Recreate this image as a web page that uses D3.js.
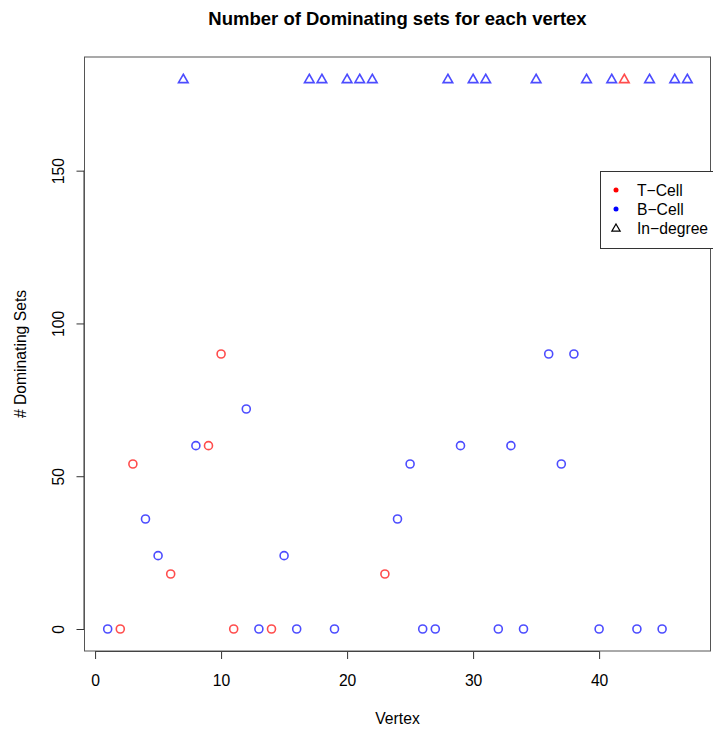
<!DOCTYPE html>
<html><head><meta charset="utf-8">
<script src="https://cdn.jsdelivr.net/npm/d3@7"></script>
<style>body{margin:0;background:#fff}svg{display:block;font-family:"Liberation Sans",Arial,sans-serif}</style>
</head><body><svg id="c" width="713" height="732"></svg>
<script>
const vertices = d3.range(1, 48);
const dominating = [0,0,54,36,24,18,180,60,60,90,0,72,0,0,24,0,180,180,0,180,180,180,18,36,54,0,0,180,60,180,180,0,60,0,180,90,54,90,180,0,180,180,0,180,0,180,180];
const cellType = ["B","T","T","B","B","T","B","B","T","T","T","B","B","T","B","B","B","B","B","B","B","B","T","B","B","B","B","B","B","B","B","B","B","B","B","B","B","B","B","B","B","T","B","B","B","B","B"];
const isInDegree = [0,0,0,0,0,0,1,0,0,0,0,0,0,0,0,0,1,1,0,1,1,1,0,0,0,0,0,1,0,1,1,0,0,0,1,0,0,0,1,0,1,1,0,1,0,1,1];
const xTicks = [0,10,20,30,40];
const yTicks = [0,50,100,150];
const legendLabels = ["T\u2212Cell","B\u2212Cell","In\u2212degree"];

const svg = d3.select("#c");
const L = 84.5, R = 710.5, T = 57, B = 651;
const x = d3.scaleLinear().domain([1 - 46*0.04, 47 + 46*0.04]).range([L, R]);
const y = d3.scaleLinear().domain([-180*0.04, 180*1.04]).range([B, T]);
const col = {T: "rgba(255,0,0,0.7)", B: "rgba(0,0,255,0.7)"};
const FS = 15.7;

svg.append("text").attr("x", (L+R)/2).attr("y", 25).attr("text-anchor","middle")
  .attr("font-size", 18.5).attr("font-weight","bold").text("Number of Dominating sets for each vertex");

const xa = svg.append("g").attr("transform", `translate(0,${B})`)
  .call(d3.axisBottom(x).tickValues(xTicks).tickSize(8).tickPadding(0).tickFormat(d3.format("d")));
xa.select(".domain").attr("d", `M${x(0)},0.5H${x(40)}`);
xa.selectAll("text").attr("font-size", FS).attr("font-family","Liberation Sans, Arial").attr("fill","#000")
  .attr("dy", null).attr("y", 35);
xa.selectAll("line,path").attr("stroke","#333");

const ya = svg.append("g").attr("transform", `translate(${L},0)`)
  .call(d3.axisLeft(y).tickValues(yTicks).tickSize(8).tickFormat(d3.format("d")));
ya.select(".domain").attr("d", `M-0.5,${y(0)}V${y(150)}`);
ya.selectAll("line,path").attr("stroke","#333");
ya.selectAll("text").remove();
ya.selectAll(".tick").append("text").attr("transform","translate(-21,0) rotate(-90)")
  .attr("text-anchor","middle").attr("font-size",FS).attr("fill","#000").text(d => d);

svg.append("rect").attr("x", L).attr("y", T).attr("width", R-L).attr("height", B-T)
  .attr("fill","none").attr("stroke","#555").attr("stroke-width",1);

svg.append("text").attr("x", (L+R)/2).attr("y", 724).attr("text-anchor","middle").attr("font-size",FS).text("Vertex");
svg.append("text").attr("transform", `translate(26,${(T+B)/2}) rotate(-90)`).attr("text-anchor","middle")
  .attr("font-size",FS).text("# Dominating Sets");

const data = vertices.map((v,i) => ({v, d: dominating[i], t: cellType[i], tri: isInDegree[i]}));
const g = svg.append("g");
g.selectAll("circle").data(data.filter(d => !d.tri)).join("circle")
  .attr("cx", d => x(d.v)).attr("cy", d => y(d.d)).attr("r", 4)
  .attr("fill","none").attr("stroke", d => col[d.t]).attr("stroke-width", 1.6);
const tri = d3.symbol().type(d3.symbolTriangle).size(40);
g.selectAll("path.tri").data(data.filter(d => d.tri)).join("path").attr("class","tri")
  .attr("transform", d => `translate(${x(d.v)},${y(d.d)+0.8})`).attr("d", tri)
  .attr("fill","none").attr("stroke", d => col[d.t]).attr("stroke-width", 1.6);

// legend
const lg = svg.append("g");
lg.append("rect").attr("x", 600.5).attr("y", 171.5).attr("width", 130).attr("height", 77)
  .attr("fill","#fff").attr("stroke","#333");
const ly = [190, 209, 228];
lg.append("circle").attr("cx", 616).attr("cy", ly[0]).attr("r", 2.5).attr("fill","red");
lg.append("circle").attr("cx", 616).attr("cy", ly[1]).attr("r", 2.5).attr("fill","blue");
lg.append("path").attr("transform", `translate(616,${ly[2]+0.8})`).attr("d", d3.symbol().type(d3.symbolTriangle).size(30))
  .attr("fill","none").attr("stroke","#000").attr("stroke-width",1.2);
lg.selectAll("text").data(legendLabels).join("text").attr("x", 637).attr("y", (d,i) => ly[i]+5.5)
  .attr("font-size", FS).text(d => d);
</script></body></html>
